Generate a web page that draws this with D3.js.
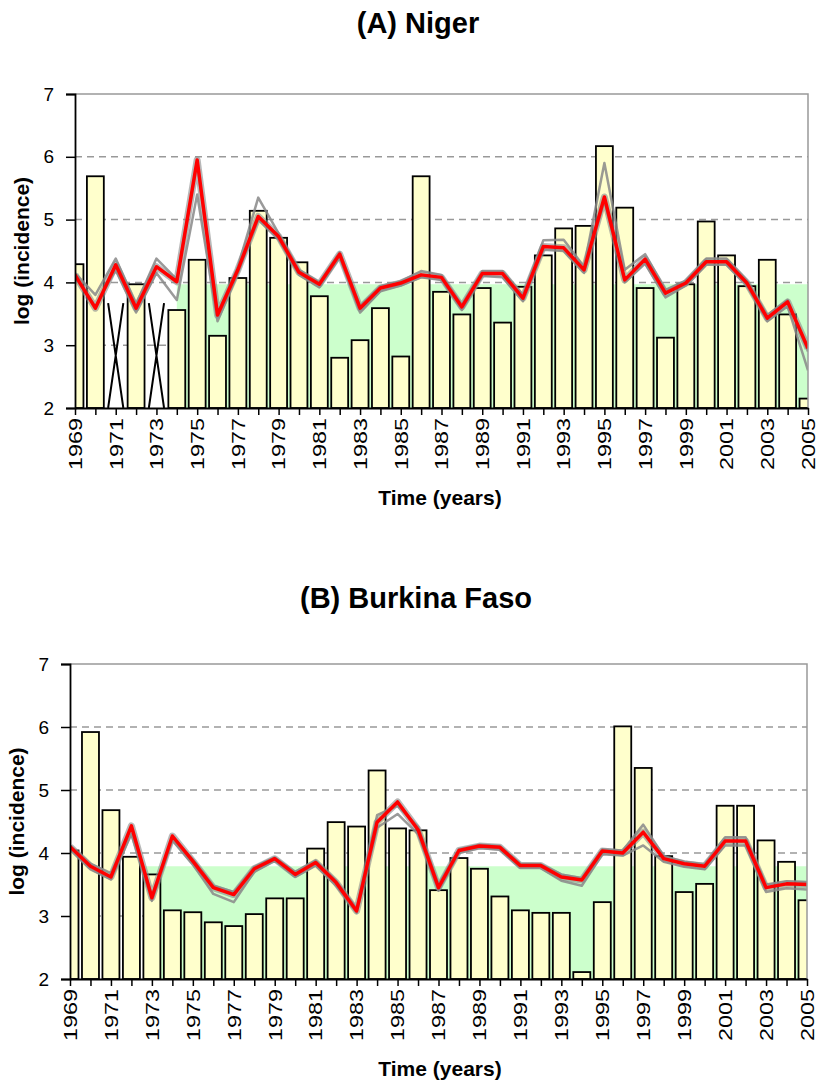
<!DOCTYPE html>
<html lang="en">
<head>
    <meta charset="UTF-8">
    <title>log (incidence)</title>
    <style>
        body { margin: 0; background: #fff; }
        text { font-family: Arial, "Liberation Sans", sans-serif; fill: #000; }
    </style>
</head>
<body>
<script src="https://cdn.jsdelivr.net/npm/d3@7/dist/d3.min.js" charset="utf-8"></script>
<script>
    var years = [1969, 1970, 1971, 1972, 1973, 1974, 1975, 1976, 1977, 1978,
        1979, 1980, 1981, 1982, 1983, 1984, 1985, 1986, 1987, 1988,
        1989, 1990, 1991, 1992, 1993, 1994, 1995, 1996, 1997, 1998,
        1999, 2000, 2001, 2002, 2003, 2004, 2005];
    var yTicks = [2, 3, 4, 5, 6, 7];

    // Niger: observed (bars, null = missing year), model (red), simulation spread (grey)
    var nigerObserved = [4.29, 5.69, null, 3.97, null, 3.56, 4.36, 3.15, 4.07, 5.14,
        4.71, 4.32, 3.78, 2.80, 3.08, 3.59, 2.82, 5.69, 3.85, 3.49,
        3.91, 3.36, 3.93, 4.43, 4.86, 4.90, 6.17, 5.19, 3.91, 3.12,
        3.97, 4.97, 4.43, 3.94, 4.36, 3.49, 2.15];
    var nigerModel = [4.12, 3.59, 4.28, 3.59, 4.25, 4.01, 5.95, 3.48, 4.20, 5.05,
        4.73, 4.16, 3.97, 4.45, 3.59, 3.91, 3.99, 4.12, 4.08, 3.61,
        4.14, 4.14, 3.75, 4.57, 4.55, 4.20, 5.36, 4.04, 4.37, 3.83,
        3.99, 4.33, 4.33, 3.99, 3.43, 3.69, 2.95];
    var nigerSimHigh = [4.15, 3.80, 4.38, 3.65, 4.38, 4.05, 5.90, 3.50, 4.25, 5.35,
        4.78, 4.20, 4.00, 4.48, 3.62, 3.94, 4.02, 4.18, 4.12, 3.64,
        4.18, 4.18, 3.80, 4.67, 4.68, 4.25, 5.90, 4.20, 4.45, 3.88,
        4.03, 4.38, 4.38, 4.03, 3.48, 3.72, 2.90];
    var nigerSimLow = [4.08, 3.62, 4.20, 3.52, 4.15, 3.72, 5.40, 3.38, 4.15, 5.00,
        4.68, 4.12, 3.92, 4.40, 3.52, 3.86, 3.95, 4.08, 4.04, 3.56,
        4.10, 4.08, 3.70, 4.52, 4.50, 4.15, 5.30, 4.00, 4.30, 3.76,
        3.95, 4.28, 4.28, 3.95, 3.38, 3.62, 2.60];
    var nigerThreshold = 3.97;
    var nigerThresholdFrom = 1974;

    // Burkina Faso
    var burkinaObserved = [4.04, 5.92, 4.68, 3.94, 3.66, 3.09, 3.06, 2.90, 2.84, 3.03,
        3.28, 3.28, 4.07, 4.49, 4.42, 5.31, 4.39, 4.36, 3.41, 3.92,
        3.75, 3.31, 3.09, 3.05, 3.05, 2.11, 3.22, 6.01, 5.35, 3.95,
        3.38, 3.51, 4.75, 4.75, 4.20, 3.86, 3.25];
    var burkinaModel = [4.10, 3.79, 3.62, 4.43, 3.29, 4.27, 3.87, 3.45, 3.34, 3.75,
        3.91, 3.66, 3.85, 3.53, 3.08, 4.49, 4.81, 4.37, 3.45, 4.04,
        4.11, 4.09, 3.80, 3.80, 3.62, 3.57, 4.03, 4.00, 4.33, 3.91,
        3.83, 3.79, 4.19, 4.19, 3.45, 3.51, 3.50];
    var burkinaSimHigh = [4.12, 3.83, 3.68, 4.40, 3.32, 4.25, 3.90, 3.48, 3.38, 3.78,
        3.93, 3.70, 3.88, 3.56, 3.12, 4.60, 4.75, 4.42, 3.50, 4.06,
        4.13, 4.11, 3.83, 3.82, 3.66, 3.60, 4.06, 4.04, 4.45, 3.95,
        3.86, 3.82, 4.25, 4.25, 3.50, 3.55, 3.54];
    var burkinaSimLow = [4.06, 3.74, 3.58, 4.30, 3.24, 4.20, 3.82, 3.35, 3.22, 3.70,
        3.88, 3.62, 3.80, 3.48, 3.05, 4.40, 4.62, 4.30, 3.40, 4.00,
        4.08, 4.05, 3.76, 3.76, 3.56, 3.48, 3.98, 3.96, 4.12, 3.86,
        3.78, 3.74, 4.12, 4.12, 3.38, 3.44, 3.42];
    var burkinaThreshold = 3.79;
    var burkinaThresholdFrom = 1972.6;

    var missingTop = 3.67;   // height of the X marks on missing years

    var svg = d3.select('body')
            .append('svg')
            .attr('width', 817)
            .attr('height', 1082);

    function drawPanel(p) {
        var x = d3.scaleLinear().domain([years[0], years[years.length - 1]]).range([p.left, p.right]);
        var y = d3.scaleLinear().domain([2, 7]).range([p.bottom, p.top]);
        var step = x(years[1]) - x(years[0]);
        var barW = step * 0.83;

        var g = svg.append('g');

        g.append('clipPath').attr('id', p.id)
            .append('rect')
            .attr('x', p.left).attr('y', p.top)
            .attr('width', p.right - p.left).attr('height', p.bottom - p.top);

        // title
        g.append('text')
            .attr('x', p.titleX).attr('y', p.titleY)
            .attr('text-anchor', 'middle')
            .style('font-size', '29px').style('font-weight', 'bold')
            .text(p.title);

        // dashed grid
        g.selectAll('line.grid')
            .data(yTicks.filter(function (d) { return d > 2 && d < 7; }))
            .enter().append('line')
            .attr('x1', p.left).attr('x2', p.right)
            .attr('y1', function (d) { return y(d); })
            .attr('y2', function (d) { return y(d); })
            .attr('stroke', '#999')
            .attr('stroke-width', 1.5)
            .attr('stroke-dasharray', '7,5');

        // green threshold band
        var band = years.filter(function (d) { return d >= p.thresholdFrom; });
        band.unshift(p.thresholdFrom);
        g.append('path')
            .datum(band)
            .attr('fill', '#ccffcc')
            .attr('d', d3.area()
                .x(function (d) { return x(d); })
                .y0(y(2))
                .y1(y(p.threshold)));

        var plot = g.append('g').attr('clip-path', 'url(#' + p.id + ')');

        // observed bars
        plot.selectAll('rect.bar')
            .data(years.map(function (yr, i) { return {year: yr, v: p.observed[i]}; })
                .filter(function (d) { return d.v !== null; }))
            .enter().append('rect')
            .attr('x', function (d) { return x(d.year) - barW / 2; })
            .attr('y', function (d) { return y(d.v); })
            .attr('width', barW)
            .attr('height', function (d) { return y(2) - y(d.v); })
            .attr('fill', '#ffffcc')
            .attr('stroke', '#000')
            .attr('stroke-width', 1.8);

        // X marks for missing years
        years.forEach(function (yr, i) {
            if (p.observed[i] !== null) return;
            var hw = barW * 0.45;
            plot.append('path')
                .attr('d', 'M' + (x(yr) - hw) + ',' + y(missingTop) + 'L' + (x(yr) + hw) + ',' + y(2) +
                    'M' + (x(yr) + hw) + ',' + y(missingTop) + 'L' + (x(yr) - hw) + ',' + y(2))
                .attr('stroke', '#000').attr('stroke-width', 2).attr('fill', 'none');
        });

        var line = d3.line()
            .x(function (d, i) { return x(years[i]); })
            .y(function (d) { return y(d); });

        // grey simulation spread
        [p.simHigh, p.simLow].forEach(function (s) {
            plot.append('path').datum(s)
                .attr('d', line).attr('fill', 'none')
                .attr('stroke', '#888').attr('stroke-width', 2.5)
                .attr('stroke-linejoin', 'round').attr('opacity', 0.85);
        });
        plot.append('path').datum(p.model)
            .attr('d', line).attr('fill', 'none')
            .attr('stroke', '#888').attr('stroke-width', 7)
            .attr('stroke-linejoin', 'round').attr('opacity', 0.6);

        // model line
        plot.append('path').datum(p.model)
            .attr('d', line).attr('fill', 'none')
            .attr('stroke', '#ff0000').attr('stroke-width', 3.5)
            .attr('stroke-linejoin', 'round');

        // frame: grey top/right, black axes
        g.append('path')
            .attr('d', 'M' + p.left + ',' + p.top + 'H' + p.right + 'V' + p.bottom)
            .attr('fill', 'none').attr('stroke', '#999').attr('stroke-width', 1.5);

        var yAxis = g.append('g')
            .attr('transform', 'translate(' + p.left + ',0)')
            .call(d3.axisLeft(y).tickValues(yTicks).tickSize(9).tickPadding(12).tickFormat(d3.format('d')));
        yAxis.select('.domain').attr('stroke', '#000').attr('stroke-width', 1.8);
        yAxis.selectAll('.tick line').attr('stroke', '#000').attr('stroke-width', 1.5);
        yAxis.selectAll('.tick text').style('font-size', '19px').attr('fill', '#000');

        var xAxis = g.append('g')
            .attr('transform', 'translate(0,' + p.bottom + ')')
            .call(d3.axisBottom(x).tickValues(years).tickSize(7).tickSizeOuter(0)
                .tickFormat(function (d, i) { return i % 2 === 0 ? d : ''; }));
        xAxis.select('.domain').attr('stroke', '#000').attr('stroke-width', 1.8);
        xAxis.selectAll('.tick line').attr('stroke', '#000').attr('stroke-width', 1.5);
        xAxis.selectAll('.tick text')
            .style('font-size', '18px').attr('fill', '#000')
            .attr('text-anchor', 'end')
            .attr('dy', '0.35em')
            .attr('transform', 'translate(0,10) rotate(-90) scale(1.3,1)')
            .attr('x', 0).attr('y', 0);

        g.append('text')
            .attr('transform', 'translate(' + p.yLabelX + ',' + ((p.top + p.bottom) / 2) + ') rotate(-90)')
            .attr('text-anchor', 'middle')
            .style('font-size', '21px').style('font-weight', 'bold')
            .text('log (incidence)');

        g.append('text')
            .attr('x', p.xLabelX).attr('y', p.xLabelY)
            .attr('text-anchor', 'middle')
            .style('font-size', '21px').style('font-weight', 'bold')
            .text('Time (years)');
    }

    drawPanel({
        id: 'clipA', title: '(A) Niger', titleX: 418, titleY: 33,
        left: 75, right: 808, top: 94, bottom: 408,
        yLabelX: 29, xLabelX: 440, xLabelY: 505,
        observed: nigerObserved, model: nigerModel,
        simHigh: nigerSimHigh, simLow: nigerSimLow,
        threshold: nigerThreshold, thresholdFrom: nigerThresholdFrom
    });

    drawPanel({
        id: 'clipB', title: '(B) Burkina Faso', titleX: 416, titleY: 608,
        left: 70, right: 807, top: 664, bottom: 979,
        yLabelX: 24, xLabelX: 440, xLabelY: 1076,
        observed: burkinaObserved, model: burkinaModel,
        simHigh: burkinaSimHigh, simLow: burkinaSimLow,
        threshold: burkinaThreshold, thresholdFrom: burkinaThresholdFrom
    });
</script>
</body>
</html>
